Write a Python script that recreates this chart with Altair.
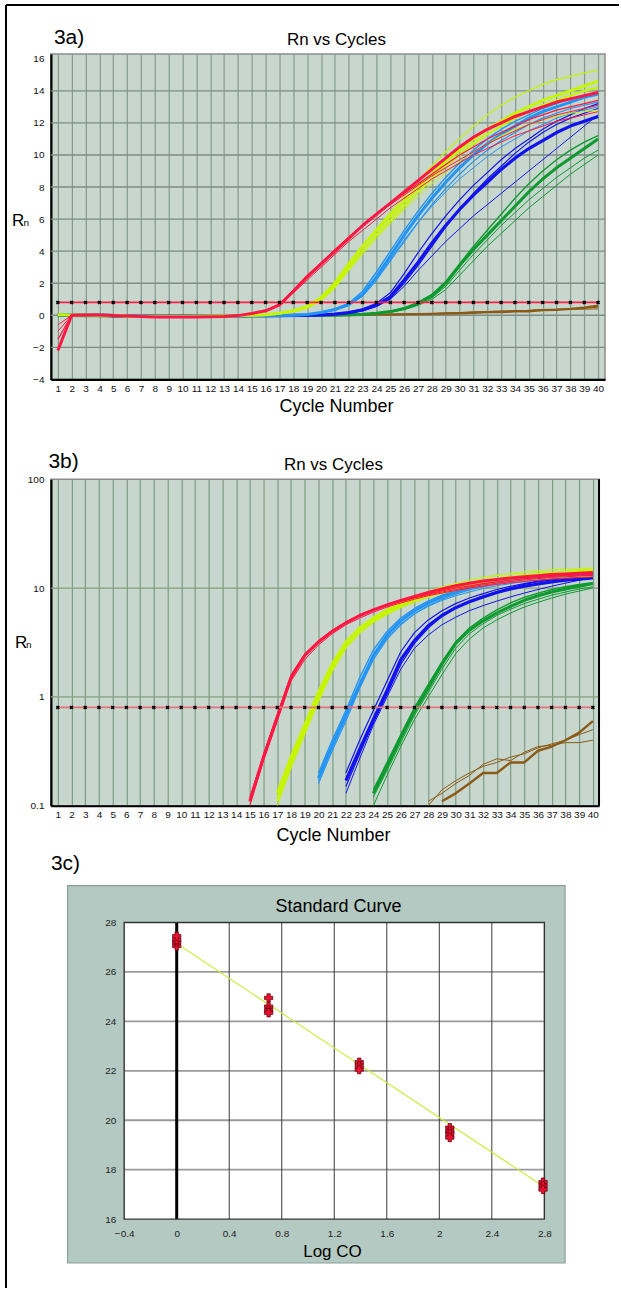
import altair as alt
import pandas as pd

FONT = "Liberation Sans"

# ---------------- data ----------------
cycles = list(range(1, 41))

red_a = [-2.2, 0.0, 0.02, 0.02, -0.02, -0.05, -0.08, -0.1, -0.1, -0.1, -0.1, -0.09, -0.07, -0.02,
         0.11, 0.28, 0.65, 1.5, 2.4, 3.2, 4.0, 4.8, 5.6, 6.3, 7.0, 7.7, 8.4, 9.1, 9.8, 10.5,
         11.1, 11.6, 12.0, 12.4, 12.7, 13.0, 13.3, 13.5, 13.7, 13.9]
red_b = [-1.0, 0.0, 0.02, 0.02, -0.02, -0.05, -0.08, -0.1, -0.1, -0.1, -0.1, -0.09, -0.07, -0.02,
         0.12, 0.3, 0.7, 1.6, 2.5, 3.3, 4.1, 4.9, 5.6, 6.3, 6.9, 7.5, 8.1, 8.7, 9.2, 9.7,
         10.2, 10.7, 11.1, 11.5, 11.9, 12.2, 12.5, 12.7, 12.9, 13.1]
red_c = [-0.6, 0.0, 0.02, 0.02, -0.02, -0.05, -0.08, -0.1, -0.1, -0.1, -0.1, -0.09, -0.07, -0.03,
         0.1, 0.26, 0.6, 1.4, 2.2, 3.0, 3.8, 4.6, 5.3, 6.0, 6.7, 7.3, 7.9, 8.5, 9.0, 9.5,
         10.0, 10.4, 10.8, 11.2, 11.5, 11.8, 12.1, 12.3, 12.5, 12.7]
red_d = [-1.5, 0.0, 0.02, 0.02, -0.02, -0.05, -0.08, -0.1, -0.1, -0.1, -0.1, -0.09, -0.07, -0.02,
         0.11, 0.29, 0.68, 1.55, 2.45, 3.25, 4.05, 4.85, 5.6, 6.3, 7.0, 7.6, 8.2, 8.8, 9.4, 10.0,
         10.5, 11.0, 11.4, 11.8, 12.2, 12.5, 12.8, 13.0, 13.2, 13.4]

yel_a = [0.03, 0.02, 0.02, 0.01, -0.02, -0.05, -0.06, -0.07, -0.07, -0.07, -0.06, -0.05, -0.04, -0.03,
         0.0, 0.04, 0.13, 0.28, 0.55, 1.1, 2.0, 3.2, 4.3, 5.3, 6.2, 7.1, 8.0, 8.8, 9.6, 10.3,
         11.0, 11.6, 12.1, 12.6, 13.0, 13.4, 13.7, 14.0, 14.3, 14.6]
yel_b = [0.03, 0.02, 0.02, 0.01, -0.02, -0.05, -0.06, -0.07, -0.07, -0.07, -0.06, -0.05, -0.04, -0.03,
         0.0, 0.04, 0.12, 0.26, 0.5, 1.0, 1.9, 3.1, 4.3, 5.4, 6.4, 7.4, 8.4, 9.3, 10.2, 11.0,
         11.8, 12.5, 13.1, 13.6, 14.0, 14.4, 14.7, 14.9, 15.1, 15.3]
yel_c = [0.03, 0.02, 0.02, 0.01, -0.02, -0.05, -0.06, -0.07, -0.07, -0.07, -0.06, -0.05, -0.04, -0.03,
         0.0, 0.03, 0.11, 0.24, 0.48, 0.95, 1.8, 2.9, 4.0, 5.0, 5.9, 6.8, 7.7, 8.5, 9.3, 10.0,
         10.7, 11.3, 11.8, 12.3, 12.7, 13.1, 13.4, 13.7, 14.0, 14.2]
yel_d = [0.03, 0.02, 0.02, 0.01, -0.02, -0.05, -0.06, -0.07, -0.07, -0.07, -0.06, -0.05, -0.04, -0.03,
         0.0, 0.03, 0.1, 0.22, 0.45, 0.9, 1.7, 2.8, 3.8, 4.8, 5.7, 6.6, 7.4, 8.2, 8.9, 9.6,
         10.2, 10.7, 11.2, 11.6, 11.9, 12.2, 12.4, 12.6, 12.7, 12.8]

lb_a = [0.04, 0.03, 0.03, 0.02, -0.02, -0.04, -0.05, -0.06, -0.06, -0.06, -0.05, -0.05, -0.04, -0.04,
        -0.03, -0.02, -0.01, 0.0, 0.05, 0.18, 0.36, 0.68, 1.3, 2.4, 3.7, 5.0, 6.2, 7.3, 8.3, 9.2,
        10.0, 10.7, 11.3, 11.8, 12.3, 12.7, 13.0, 13.3, 13.6, 13.8]
lb_b = [0.04, 0.03, 0.03, 0.02, -0.02, -0.04, -0.05, -0.06, -0.06, -0.06, -0.05, -0.05, -0.04, -0.04,
        -0.03, -0.02, -0.01, 0.0, 0.05, 0.16, 0.32, 0.6, 1.2, 2.2, 3.4, 4.6, 5.8, 6.9, 7.9, 8.8,
        9.6, 10.3, 10.9, 11.4, 11.9, 12.3, 12.6, 12.9, 13.1, 13.3]
lb_c = [0.04, 0.03, 0.03, 0.02, -0.02, -0.04, -0.05, -0.06, -0.06, -0.06, -0.05, -0.05, -0.04, -0.04,
        -0.03, -0.02, -0.01, 0.0, 0.06, 0.2, 0.4, 0.75, 1.5, 2.7, 4.0, 5.3, 6.5, 7.6, 8.6, 9.5,
        10.3, 11.0, 11.6, 12.1, 12.5, 12.9, 13.2, 13.5, 13.7, 13.9]
lb_d = [0.04, 0.03, 0.03, 0.02, -0.02, -0.04, -0.05, -0.06, -0.06, -0.06, -0.05, -0.05, -0.04, -0.04,
        -0.03, -0.02, -0.01, 0.0, 0.05, 0.17, 0.34, 0.64, 1.25, 2.3, 3.5, 4.7, 5.8, 6.8, 7.7, 8.5,
        9.2, 9.9, 10.5, 11.0, 11.5, 11.9, 12.3, 12.6, 12.8, 13.0]

bl_a = [0.04, 0.03, 0.03, 0.02, -0.02, -0.04, -0.05, -0.06, -0.06, -0.06, -0.05, -0.05, -0.04, -0.04,
        -0.03, -0.03, -0.02, -0.01, 0.0, 0.02, 0.07, 0.17, 0.33, 0.62, 1.15, 2.2, 3.3, 4.5, 5.6, 6.6,
        7.5, 8.3, 9.1, 9.8, 10.4, 10.9, 11.4, 11.8, 12.1, 12.4]
bl_b = [0.04, 0.03, 0.03, 0.02, -0.02, -0.04, -0.05, -0.06, -0.06, -0.06, -0.05, -0.05, -0.04, -0.04,
        -0.03, -0.03, -0.02, -0.01, 0.0, 0.02, 0.07, 0.15, 0.3, 0.58, 1.05, 2.0, 3.1, 4.3, 5.5, 6.6,
        7.6, 8.5, 9.3, 10.1, 10.8, 11.4, 11.9, 12.3, 12.6, 12.9]
bl_c = [0.04, 0.03, 0.03, 0.02, -0.02, -0.04, -0.05, -0.06, -0.06, -0.06, -0.05, -0.05, -0.04, -0.04,
        -0.03, -0.03, -0.02, -0.01, 0.0, 0.02, 0.06, 0.13, 0.27, 0.55, 1.0, 1.8, 2.8, 3.7, 4.6, 5.4,
        6.2, 6.9, 7.6, 8.3, 9.0, 9.7, 10.4, 11.1, 11.8, 12.5]
bl_d = [0.04, 0.03, 0.03, 0.02, -0.02, -0.04, -0.05, -0.06, -0.06, -0.06, -0.05, -0.05, -0.04, -0.04,
        -0.03, -0.03, -0.02, -0.01, 0.0, 0.03, 0.08, 0.2, 0.4, 0.75, 1.4, 2.6, 3.9, 5.1, 6.2, 7.2,
        8.1, 8.9, 9.7, 10.4, 11.0, 11.6, 12.1, 12.5, 12.9, 13.2]

gr_a = [0.0, -0.02, -0.03, -0.03, -0.04, -0.05, -0.05, -0.06, -0.06, -0.06, -0.05, -0.05, -0.04, -0.04,
        -0.03, -0.03, -0.02, -0.02, -0.01, 0.0, 0.01, 0.03, 0.06, 0.13, 0.23, 0.42, 0.74, 1.2, 2.0, 3.1,
        4.1, 5.0, 5.9, 6.8, 7.7, 8.5, 9.2, 9.8, 10.4, 11.0]
gr_b = [0.0, -0.02, -0.03, -0.03, -0.04, -0.05, -0.05, -0.06, -0.06, -0.06, -0.05, -0.05, -0.04, -0.04,
        -0.03, -0.03, -0.02, -0.02, -0.01, 0.0, 0.01, 0.03, 0.06, 0.12, 0.21, 0.38, 0.68, 1.1, 1.8, 2.8,
        3.8, 4.7, 5.6, 6.4, 7.2, 7.9, 8.6, 9.2, 9.8, 10.3]
gr_c = [0.0, -0.02, -0.03, -0.03, -0.04, -0.05, -0.05, -0.06, -0.06, -0.06, -0.05, -0.05, -0.04, -0.04,
        -0.03, -0.03, -0.02, -0.02, -0.01, 0.0, 0.01, 0.02, 0.05, 0.1, 0.19, 0.35, 0.62, 1.0, 1.6, 2.5,
        3.4, 4.3, 5.1, 5.9, 6.7, 7.4, 8.1, 8.8, 9.4, 10.0]
gr_d = [0.0, -0.02, -0.03, -0.03, -0.04, -0.05, -0.05, -0.06, -0.06, -0.06, -0.05, -0.05, -0.04, -0.04,
        -0.03, -0.03, -0.02, -0.02, -0.01, 0.0, 0.01, 0.03, 0.07, 0.14, 0.25, 0.45, 0.8, 1.3, 2.1, 3.2,
        4.3, 5.3, 6.3, 7.3, 8.2, 9.0, 9.7, 10.3, 10.8, 11.2]

br_a = [0.0, -0.02, -0.03, -0.03, -0.04, -0.05, -0.05, -0.06, -0.06, -0.06, -0.05, -0.05, -0.04, -0.04,
        -0.03, -0.03, -0.02, -0.02, -0.01, 0.0, 0.01, 0.02, 0.03, 0.04, 0.05, 0.06, 0.07, 0.09, 0.11, 0.13,
        0.16, 0.2, 0.2, 0.25, 0.25, 0.32, 0.35, 0.4, 0.47, 0.6]
br_b = [0.0, -0.02, -0.03, -0.03, -0.04, -0.05, -0.05, -0.06, -0.06, -0.06, -0.05, -0.05, -0.04, -0.04,
        -0.03, -0.03, -0.02, -0.02, -0.01, 0.0, 0.01, 0.02, 0.03, 0.04, 0.05, 0.07, 0.08, 0.1, 0.14, 0.17,
        0.2, 0.23, 0.25, 0.28, 0.3, 0.34, 0.37, 0.4, 0.45, 0.5]
br_c = [0.0, -0.02, -0.03, -0.03, -0.04, -0.05, -0.05, -0.06, -0.06, -0.06, -0.05, -0.05, -0.04, -0.04,
        -0.03, -0.03, -0.02, -0.02, -0.01, 0.0, 0.01, 0.02, 0.03, 0.04, 0.06, 0.07, 0.09, 0.11, 0.13, 0.16,
        0.19, 0.24, 0.27, 0.26, 0.31, 0.35, 0.36, 0.38, 0.38, 0.4]

group_names = ["NTC", "dil5", "dil4", "dil3", "dil2", "dil1"]
group_colors = ["#8b5a16", "#0e9a2e", "#1212ee", "#2494f4", "#c6f500", "#ff1643"]

# (group, curve id, values, line width) in drawing order
curves = [
    ("NTC", "br_b", br_b, 1.0), ("NTC", "br_c", br_c, 1.0), ("NTC", "br_a", br_a, 2.4),
    ("dil5", "gr_b", gr_b, 1.0), ("dil5", "gr_c", gr_c, 1.0), ("dil5", "gr_d", gr_d, 1.4), ("dil5", "gr_a", gr_a, 3.0),
    ("dil4", "bl_c", bl_c, 1.0), ("dil4", "bl_b", bl_b, 1.2), ("dil4", "bl_d", bl_d, 1.2), ("dil4", "bl_a", bl_a, 3.2),
    ("dil3", "lb_d", lb_d, 1.0), ("dil3", "lb_b", lb_b, 1.2), ("dil3", "lb_c", lb_c, 1.4), ("dil3", "lb_a", lb_a, 3.0),
    ("dil2", "yel_d", yel_d, 1.0), ("dil2", "yel_b", yel_b, 1.2), ("dil2", "yel_c", yel_c, 2.2), ("dil2", "yel_a", yel_a, 3.0),
    ("dil1", "red_c", red_c, 1.0), ("dil1", "red_b", red_b, 1.0), ("dil1", "red_d", red_d, 1.2), ("dil1", "red_a", red_a, 3.0),
]

threshold_rn = 0.8
lin_ticks = [-4, -2, 0, 2, 4, 6, 8, 10, 12, 14, 16]
lin_grid = [-2, 0, 2, 4, 6, 8, 10, 12, 14]
log_ticks = [0.1, 1, 10, 100]
log_grid = [1, 10]

# standard curve
sc_logco = [0, 0, 0, 0, 0.7, 0.7, 0.7, 0.7, 1.39, 1.39, 1.39, 2.08, 2.08, 2.08, 2.08, 2.79, 2.79, 2.79]
sc_ct = [27.05, 27.2, 27.3, 27.45, 24.95, 24.6, 24.45, 24.35, 22.35, 22.2, 22.05,
         19.7, 19.55, 19.45, 19.3, 17.5, 17.35, 17.2]
fit_logco = [0, 2.8]
fit_ct = [27.15, 17.3]
sc_x_ticks = [-0.4, 0, 0.4, 0.8, 1.2, 1.6, 2, 2.4, 2.8]
sc_x_grid = [0.4, 0.8, 1.2, 1.6, 2.0, 2.4]
sc_y_ticks = [16, 18, 20, 22, 24, 26, 28]
sc_y_grid = [18, 20, 22, 24, 26]
sc_x_range = [-0.4, 2.8]
sc_y_range = [16, 28]

# ---------------- tables ----------------
rows = []
for i, (g, cid, vals, w) in enumerate(curves):
    for c, v in zip(cycles, vals):
        rows.append({"cycle": c, "rn": v, "group": g, "curve": f"{i:02d}_{cid}", "w": w})
df = pd.DataFrame(rows)
thr_df = pd.DataFrame({"cycle": cycles, "rn": [threshold_rn] * len(cycles)})
one = pd.DataFrame({"k": [0]})


def label(text, x, y, size, align="left", color="#000"):
    return alt.Chart(pd.DataFrame({"t": [text]})).mark_text(
        font=FONT, fontSize=size, align=align, baseline="alphabetic", color=color
    ).encode(text="t:N", x=alt.value(x), y=alt.value(y))


color_enc = alt.Color("group:N", scale=alt.Scale(domain=group_names, range=group_colors), legend=None)


def x_enc(domain, grid_color):
    return alt.X("cycle:Q", scale=alt.Scale(domain=domain, nice=False, zero=False),
                 axis=alt.Axis(values=cycles, format="d", title=None, grid=True, gridColor=grid_color,
                               gridWidth=1.2, ticks=False, domainColor="#000", domainWidth=2.2,
                               labelFont=FONT, labelFontSize=10, labelPadding=4, labelColor="#111",
                               labelOverlap=False, labelFlush=False))


# ---------------- panel 3a ----------------
WA, HA = 555, 326
xa = x_enc([0.5, 40.5], "#84998c")
ya = alt.Y("rn:Q", scale=alt.Scale(domain=[-4, 16.3], nice=False, zero=False),
           axis=alt.Axis(values=lin_ticks, format="d", title=None, grid=False, ticks=False,
                         domainColor="#000", domainWidth=2.2, labelFont=FONT, labelFontSize=10,
                         labelPadding=7, labelColor="#111"))

a_grid = alt.Chart(pd.DataFrame({"rn": lin_grid})).mark_rule(color="#7d8d84", strokeWidth=1.4).encode(y=ya)
a_lines = alt.Chart(df).mark_line(clip=True, strokeJoin="round").encode(
    x=xa, y=ya, color=color_enc, detail="curve:N",
    strokeWidth=alt.StrokeWidth("w:Q", scale=None), order="cycle:Q")
a_thr = alt.Chart(thr_df).mark_line(color="#ff1f45", strokeWidth=1.8).encode(x=xa, y=ya)
a_x = alt.Chart(thr_df).mark_point(shape="cross", angle=45, filled=True, size=16, color="#000",
                                   opacity=1).encode(x=xa, y=ya)
frame_left = alt.Chart(one).mark_rule(color="#000", strokeWidth=2).encode(
    x=alt.value(-45), y=alt.value(-49), y2=alt.value(1236))
frame_top = alt.Chart(one).mark_rule(color="#000", strokeWidth=2).encode(
    y=alt.value(-49), x=alt.value(-45), x2=alt.value(569))

panel_a = alt.layer(
    a_grid, a_lines, a_thr, a_x,
    label("3a)", 3, -10, 21),
    label("Rn vs Cycles", 286, -9, 17, "center"),
    label("R", -39, 172, 17), label("n", -27.5, 172, 10),
    label("Cycle Number", 286, 359, 18, "center"),
    frame_left, frame_top,
).properties(width=WA, height=HA,
             view=alt.ViewBackground(fill="#c7d7ce", stroke="#8c8c8c", strokeWidth=1.5))

# ---------------- panel 3b ----------------
WB, HB = 549, 327
xb = x_enc([0.5, 40.45], "#7f9a84")
yb = alt.Y("rn:Q", scale=alt.Scale(type="log", domain=[0.1, 100], nice=False),
           axis=alt.Axis(values=log_ticks, format="~g", title=None, grid=False, ticks=False,
                         domainColor="#000", domainWidth=2.2, labelFont=FONT, labelFontSize=10,
                         labelPadding=7, labelColor="#111"))

b_grid = alt.Chart(pd.DataFrame({"rn": log_grid})).mark_rule(color="#86a07a", strokeWidth=1.3).encode(y=yb)
b_lines = alt.Chart(df).transform_filter("datum.rn >= 0.1").mark_line(clip=True, strokeJoin="round").encode(
    x=xb, y=yb, color=color_enc, detail="curve:N",
    strokeWidth=alt.StrokeWidth("w:Q", scale=None), order="cycle:Q")
b_thr = alt.Chart(thr_df).mark_line(color="#e8707a", strokeWidth=1.8).encode(x=xb, y=yb)
b_x = alt.Chart(thr_df).mark_point(shape="cross", angle=45, filled=True, size=16, color="#000",
                                   opacity=1).encode(x=xb, y=yb)
b_right = alt.Chart(one).mark_rule(color="#000", strokeWidth=2).encode(
    x=alt.value(WB), y=alt.value(0), y2=alt.value(HB))

panel_b = alt.layer(
    b_grid, b_lines, b_thr, b_x, b_right,
    label("3b)", -2.5, -11, 21),
    label("Rn vs Cycles", 283, -9, 17, "center"),
    label("R", -36, 169, 17), label("n", -25, 169, 10),
    label("Cycle Number", 283, 362, 18, "center"),
).properties(width=WB, height=HB,
             view=alt.ViewBackground(fill="#c7d7ce", stroke="#8c8c8c", strokeWidth=1.5))

# ---------------- panel 3c ----------------
WC, HC = 515, 358
xsc = alt.Scale(domain=[-0.958, 2.958], nice=False, zero=False)
ysc = alt.Scale(domain=[14.226, 28.685], nice=False, zero=False)
ax_x = alt.Axis(values=sc_x_ticks, format="~g", title=None, grid=False, ticks=False, domain=False,
                offset=-44, labelFont=FONT, labelFontSize=10, labelPadding=9, labelColor="#222",
                labelFlush=False, labelOverlap=False, zindex=3)
ax_y = alt.Axis(values=sc_y_ticks, format="d", title=None, grid=False, ticks=False, domain=False,
                offset=-74, labelFont=FONT, labelFontSize=10, labelPadding=9, labelColor="#222",
                zindex=3)

box_df = pd.DataFrame({"x": [sc_x_range[0]], "x2": [sc_x_range[1]], "y": [sc_y_range[0]], "y2": [sc_y_range[1]]})

c_gray = alt.Chart(one).mark_rect(fill="#b3c9c1", stroke="#8ba098", strokeWidth=1.2).encode(
    x=alt.value(16.7), x2=alt.value(515), y=alt.value(-20), y2=alt.value(358))
c_white = alt.Chart(box_df).mark_rect(fill="#ffffff").encode(
    x=alt.X("x:Q", scale=xsc, axis=ax_x), x2="x2", y=alt.Y("y:Q", scale=ysc, axis=ax_y), y2="y2")
c_hgrid = alt.Chart(pd.DataFrame({"y": sc_y_grid, "x": sc_x_range[0], "x2": sc_x_range[1]})).mark_rule(
    color="#9a9a9a", strokeWidth=1.8).encode(
    x=alt.X("x:Q", scale=xsc, axis=ax_x), x2="x2", y=alt.Y("y:Q", scale=ysc, axis=ax_y))
c_vgrid = alt.Chart(pd.DataFrame({"x": sc_x_grid, "y": sc_y_range[0], "y2": sc_y_range[1]})).mark_rule(
    color="#3a3a3a", strokeWidth=1).encode(
    x=alt.X("x:Q", scale=xsc, axis=ax_x), y=alt.Y("y:Q", scale=ysc, axis=ax_y), y2="y2")
c_zero = alt.Chart(pd.DataFrame({"x": [0], "y": sc_y_range[0], "y2": sc_y_range[1]})).mark_rule(
    color="#000", strokeWidth=3).encode(
    x=alt.X("x:Q", scale=xsc, axis=ax_x), y=alt.Y("y:Q", scale=ysc, axis=ax_y), y2="y2")
c_border = alt.Chart(box_df).mark_rect(fill="transparent", stroke="#333", strokeWidth=1.4).encode(
    x=alt.X("x:Q", scale=xsc, axis=ax_x), x2="x2", y=alt.Y("y:Q", scale=ysc, axis=ax_y), y2="y2")
c_fit = alt.Chart(pd.DataFrame({"x": fit_logco, "y": fit_ct})).mark_line(
    color="#c8ee3a", strokeWidth=1.1).encode(
    x=alt.X("x:Q", scale=xsc, axis=ax_x), y=alt.Y("y:Q", scale=ysc, axis=ax_y))
c_pts = alt.Chart(pd.DataFrame({"x": sc_logco, "y": sc_ct})).mark_point(
    shape="cross", filled=True, size=70, color="#e8102c", stroke="#5a0012", strokeWidth=0.7,
    opacity=1).encode(
    x=alt.X("x:Q", scale=xsc, axis=ax_x), y=alt.Y("y:Q", scale=ysc, axis=ax_y))

panel_c = alt.layer(
    c_gray, c_white, c_hgrid, c_vgrid, c_zero, c_border, c_fit, c_pts,
    label("3c)", 0, -36, 21),
    label("Standard Curve", 288, 6, 18, "center"),
    label("Log CO", 282, 352, 17, "center"),
).properties(width=WC, height=HC,
             view=alt.ViewBackground(fill="transparent", strokeWidth=0))

chart = alt.vconcat(panel_a, panel_b, panel_c, spacing=100, bounds="flush").properties(
    padding={"left": 4, "top": 2, "right": 0, "bottom": 0}, background="#ffffff")

chart.save("out.html", embed_options={"renderer": "svg", "actions": False})
